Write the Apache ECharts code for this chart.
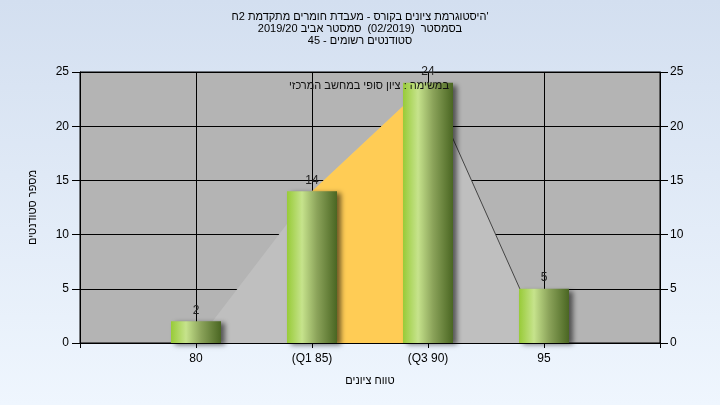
<!DOCTYPE html>
<html>
<head>
<meta charset="utf-8">
<script src="https://cdn.jsdelivr.net/npm/echarts@6/dist/echarts.min.js"></script>
<style>
html,body{margin:0;padding:0;}
#c{width:720px;height:405px;background:linear-gradient(to bottom,#d3dff0,#eff6fe);}
</style>
</head>
<body>
<div id="c"></div>
<script>
// categories (first/last are empty padding slots)
var categories = ['', '80', '(Q1 85)', '(Q3 90)', '95', ''];
// number of students per grade bucket
var counts = ['-', 2, 14, 24, 5, '-'];
// grey distribution outline
var curve = ['-', 0, 14, 24, 0, '-'];
// yellow inter-quartile part
var quartile = ['-', '-', 14, 24, '-', '-'];
// dark outline segment on the right side
var outline = ['-', '-', '-', 24, 0, '-'];
var yTicks = [0, 5, 10, 15, 20, 25];

var titleLines = [
  '\u200F' + "'היסטוגרמת ציונים בקורס - מעבדת חומרים מתקדמת 2ח",
  '\u200F' + 'בסמסטר  (02/2019)  סמסטר אביב 2019/20',
  '\u200F' + 'סטודנטים רשומים - 45'
];
var innerText = 'במשימה : ציון סופי במחשב המרכזי';
var xName = 'טווח ציונים';
var yName = 'מספר סטודנטים';

var FONT = '"Liberation Sans", Arial, sans-serif';
var chart = echarts.init(document.getElementById('c'));
chart.setOption({
  backgroundColor: 'transparent',
  animation: false,
  textStyle: {fontFamily: FONT},
  title: {
    text: titleLines.join('\n'),
    left: 'center',
    top: 11,
    padding: 0,
    textStyle: {fontSize: 11, fontWeight: 'normal', color: '#000', lineHeight: 12, fontFamily: FONT}
  },
  graphic: [{
    type: 'text',
    x: 369, y: 86,
    style: {text: innerText, textAlign: 'center', textVerticalAlign: 'middle', fontSize: 11, fill: '#111', fontFamily: FONT},
    z: 100
  }],
  grid: {
    left: 80, right: 60, top: 72, bottom: 62,
    show: true, backgroundColor: '#b4b4b4', borderColor: '#000', borderWidth: 1
  },
  xAxis: {
    type: 'category',
    data: categories,
    boundaryGap: false,
    name: xName,
    nameLocation: 'middle',
    nameGap: 32,
    nameTextStyle: {fontSize: 11, color: '#000', fontFamily: FONT},
    axisLine: {show: true, lineStyle: {color: '#000', width: 1}},
    axisTick: {show: true, interval: 0, length: 5, lineStyle: {color: '#000'}},
    axisLabel: {interval: 0, fontSize: 12, color: '#000', margin: 10, fontFamily: FONT},
    splitLine: {show: true, interval: 0, lineStyle: {color: '#000', width: 1}}
  },
  yAxis: [{
    type: 'value',
    min: yTicks[0], max: yTicks[yTicks.length - 1], interval: 5,
    name: yName,
    nameLocation: 'middle',
    nameRotate: 90,
    nameGap: 42,
    nameTextStyle: {fontSize: 11, color: '#000', fontFamily: FONT},
    axisLine: {show: true, lineStyle: {color: '#000'}},
    axisTick: {show: true, length: 8, lineStyle: {color: '#000'}},
    axisLabel: {fontSize: 12, color: '#000', margin: 11, fontFamily: FONT},
    splitLine: {show: true, lineStyle: {color: '#000', width: 1}}
  }, {
    type: 'value',
    position: 'right',
    min: yTicks[0], max: yTicks[yTicks.length - 1], interval: 5,
    axisLine: {show: true, lineStyle: {color: '#000'}},
    axisTick: {show: true, length: 8, lineStyle: {color: '#000'}},
    axisLabel: {fontSize: 12, color: '#000', margin: 10, fontFamily: FONT},
    splitLine: {show: false}
  }],
  series: [{
    type: 'line',
    data: curve,
    symbol: 'none',
    lineStyle: {width: 0, opacity: 0},
    areaStyle: {color: '#bfbfbf', opacity: 1},
    z: 2, silent: true
  }, {
    type: 'line',
    data: quartile,
    symbol: 'none',
    lineStyle: {width: 0, opacity: 0},
    areaStyle: {color: '#ffcc55', opacity: 1},
    z: 3, silent: true
  }, {
    type: 'line',
    data: outline,
    symbol: 'none',
    lineStyle: {width: 1, color: '#444'},
    z: 4, silent: true
  }, {
    type: 'bar',
    data: counts,
    barWidth: 50,
    z: 5,
    itemStyle: {
      color: new echarts.graphic.LinearGradient(0, 0, 1, 0, [
        {offset: 0, color: '#98cb38'},
        {offset: 0.3, color: '#c6e38c'},
        {offset: 0.6, color: '#8ba35a'},
        {offset: 1, color: '#4a6622'}
      ]),
      shadowColor: 'rgba(0,0,0,0.55)',
      shadowBlur: 5,
      shadowOffsetX: 4,
      shadowOffsetY: 2
    },
    label: {show: true, position: 'top', distance: 5, fontSize: 12, color: '#222', fontFamily: FONT}
  }]
});
</script>
</body>
</html>
